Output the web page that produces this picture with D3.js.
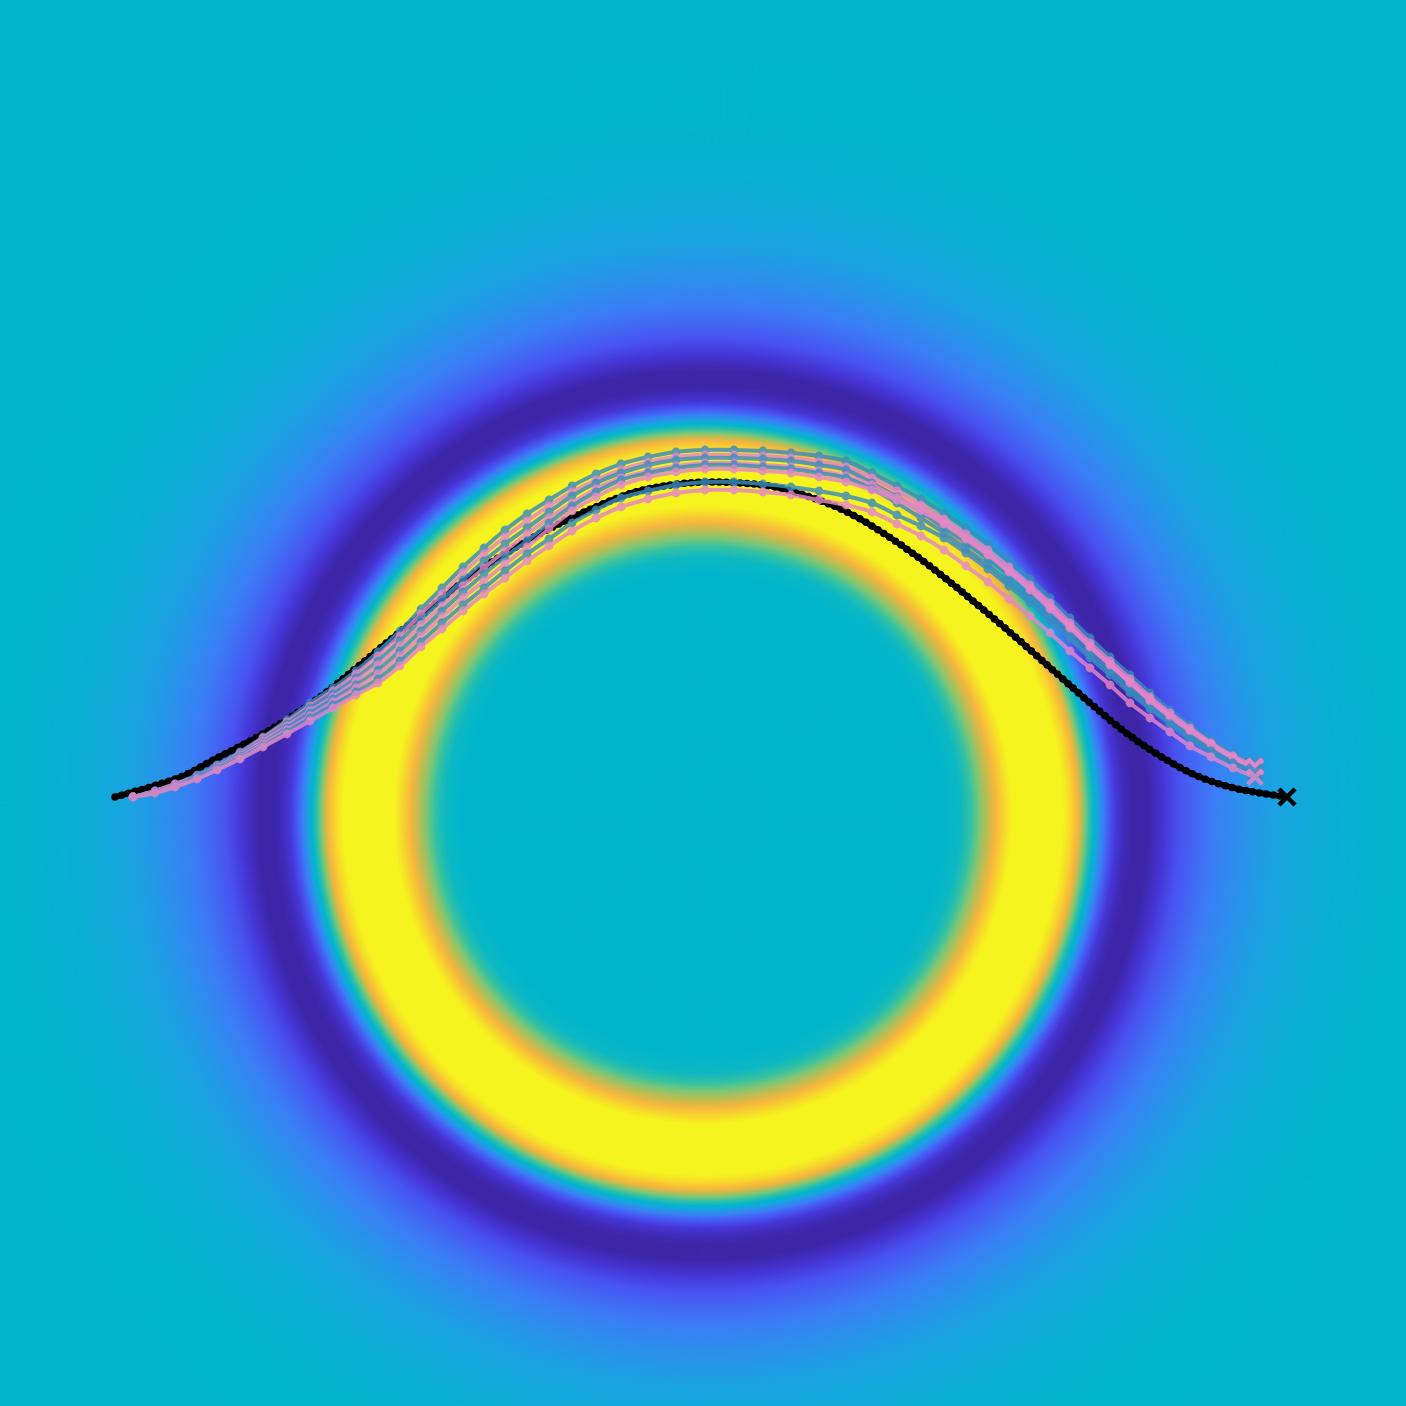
<!DOCTYPE html>
<html>
<head>
<meta charset="utf-8">
<style>
  html, body { margin: 0; padding: 0; background: #02b5cc; }
  svg { display: block; }
</style>
</head>
<body>
<div id="chart"></div>
<script src="https://cdn.jsdelivr.net/npm/d3@7"></script>
<script>
// colour map (parula-like), position -> colour
const cmapPos = [0, 0.08, 0.16, 0.25, 0.35, 0.45, 0.55, 0.63, 0.72, 0.8, 0.9, 1];
const cmapColors = ['#3e26a8', '#4636d6', '#4858f2', '#3a80f5', '#1ca2e2', '#02b5cc',
                    '#35c2a2', '#7cc677', '#c6bc4f', '#f8b63e', '#f6d92c', '#f6f41f'];

// radial profile of the field
const fieldCenter = [703, 815];
const ringRadius = [0, 240, 258, 270, 282, 292, 302, 310, 360, 368, 376, 383, 390, 398, 406, 414, 422, 430,
                    445, 456, 466, 478, 495, 515, 545, 585, 635, 700];
const ringLevel = [0.45, 0.45, 0.47, 0.56, 0.68, 0.78, 0.9, 1, 1, 0.9, 0.78, 0.62, 0.48, 0.3, 0.17, 0.08, 0.03, 0,
                   0, 0.05, 0.1, 0.15, 0.2, 0.25, 0.31, 0.37, 0.42, 0.45];

// reference path (black)
const refX = [115, 150, 183, 215, 250, 285, 320, 355, 390, 425, 460, 495, 530, 565, 600, 635, 670, 705,
              740, 775, 810, 845, 880, 915, 950, 985, 1020, 1055, 1090, 1125, 1160, 1195, 1230, 1260, 1287];
const refY = [797, 787, 776, 759, 741, 721, 697, 669, 640, 612, 584, 560, 539, 521, 505, 492, 485, 482,
              483, 487, 497, 511, 531, 555, 582, 611, 641, 672, 703, 732, 756, 775, 787, 793, 797];

// sampled trajectories, shared step positions
const stepX = [133, 155, 175, 197, 217, 240, 263, 287, 310, 333, 356, 378, 400, 421, 442, 463, 484, 505, 527, 549,
               572, 596, 621, 648, 676, 705, 734, 763, 791, 819, 846, 872, 897, 921, 944, 966, 988, 1009, 1030, 1050,
               1070, 1090, 1110, 1130, 1150, 1170, 1190, 1211, 1233, 1255];
const runTealA = [797, 791, 784, 775, 765, 752, 737, 720, 703, 688, 671, 652, 631, 609, 588, 567, 548, 530, 514, 500,
                  486, 474, 464, 457, 452, 450, 450, 451, 453, 456, 461, 473, 486, 499, 513, 528, 544, 561, 579, 598,
                  618, 638, 657, 675, 693, 710, 725, 740, 754, 764];
const runPinkA = [797, 791, 784, 776, 766, 753, 738, 722, 706, 691, 674, 656, 636, 614, 594, 573, 554, 537, 521, 506,
                  492, 480, 470, 462, 457, 455, 455, 456, 458, 462, 467, 478, 491, 505, 519, 534, 550, 567, 585, 603,
                  623, 643, 661, 679, 697, 713, 728, 743, 756, 766];
const runTealB = [797, 792, 785, 776, 766, 754, 740, 724, 708, 694, 678, 661, 641, 620, 600, 580, 561, 544, 528, 512,
                  496, 483, 473, 465, 460, 458, 458, 459, 461, 465, 470, 483, 497, 512, 528, 543, 559, 576, 594, 612,
                  631, 650, 668, 686, 703, 719, 733, 747, 760, 769];
const runPinkB = [797, 792, 785, 777, 767, 755, 741, 726, 711, 697, 681, 665, 646, 625, 606, 586, 568, 551, 534, 518,
                  503, 489, 478, 471, 466, 463, 463, 465, 467, 471, 476, 485, 498, 509, 522, 538, 554, 571, 588, 607,
                  626, 646, 664, 682, 699, 716, 730, 744, 758, 767];
const runTealC = [797, 792, 786, 777, 768, 756, 743, 728, 713, 699, 685, 670, 651, 631, 611, 592, 574, 557, 541, 523,
                  506, 492, 480, 473, 468, 465, 465, 467, 469, 473, 478, 489, 503, 518, 533, 549, 565, 582, 599, 617,
                  636, 655, 672, 690, 707, 722, 737, 749, 762, 771];
const runPinkC = [797, 792, 786, 778, 769, 757, 744, 730, 716, 702, 688, 674, 656, 636, 617, 598, 581, 564, 547, 529,
                  511, 497, 485, 477, 472, 469, 469, 471, 473, 477, 482, 490, 500, 511, 524, 539, 555, 572, 590, 609,
                  628, 647, 665, 683, 701, 717, 731, 745, 758, 768];
const runTealD = [797, 793, 787, 778, 769, 758, 746, 732, 718, 705, 692, 679, 661, 642, 623, 605, 588, 571, 554, 539,
                  523, 510, 498, 491, 485, 482, 482, 484, 487, 491, 496, 503, 515, 526, 538, 553, 569, 586, 603, 621,
                  639, 658, 675, 693, 709, 724, 739, 751, 763, 772];
const runPinkD = [797, 793, 787, 779, 770, 759, 747, 734, 721, 708, 695, 683, 666, 647, 629, 611, 594, 578, 561, 546,
                  531, 518, 507, 499, 493, 490, 490, 492, 495, 500, 505, 512, 524, 536, 550, 566, 582, 599, 616, 633,
                  651, 668, 685, 703, 718, 732, 746, 757, 768, 777];

const runs = [runTealA, runPinkA, runTealB, runPinkB, runTealC, runPinkC, runTealD, runPinkD];
const runKind = ['teal', 'pink', 'teal', 'pink', 'teal', 'pink', 'teal', 'pink'];

const W = 1406, H = 1406;

const x = d3.scaleLinear().domain([0, 1406]).range([0, W]);
const y = d3.scaleLinear().domain([0, 1406]).range([0, H]);

const color = d3.scaleLinear().domain(cmapPos).range(cmapColors)
    .interpolate(d3.interpolateRgb).clamp(true);
const level = d3.scaleLinear().domain(ringRadius).range(ringLevel).clamp(true);
const runColor = d3.scaleOrdinal().domain(['teal', 'pink']).range(['#3a8cc0', '#e686c8']);

const svg = d3.select('#chart')
    .append('svg')
    .attr('width', W)
    .attr('height', H);

// field
svg.append('rect')
    .attr('width', W)
    .attr('height', H)
    .attr('fill', color(level(ringRadius[ringRadius.length - 1])));

svg.append('g')
    .attr('id', 'field')
    .selectAll('circle')
    .data(d3.range(760, 0, -1))
    .enter()
    .append('circle')
    .attr('cx', x(fieldCenter[0]))
    .attr('cy', y(fieldCenter[1]))
    .attr('r', d => x(d) - x(0))
    .attr('fill', d => color(level(d)));

const line = d3.line()
    .x(d => x(d[0]))
    .y(d => y(d[1]))
    .curve(d3.curveCatmullRom);

// reference path
const refPts = refX.map((v, i) => [v, refY[i]]);
const refG = svg.append('g').attr('id', 'reference');

refG.append('path')
    .datum(refPts)
    .attr('d', line)
    .attr('fill', 'none')
    .attr('stroke', '#000')
    .attr('stroke-width', 5.5)
    .attr('stroke-linecap', 'round');

refG.append('path')
    .datum(refPts)
    .attr('d', line)
    .attr('fill', 'none')
    .attr('stroke', '#000')
    .attr('stroke-width', 7.5)
    .attr('stroke-linecap', 'round')
    .attr('stroke-dasharray', '0 7');

const refEnd = refPts[refPts.length - 1];
refG.append('path')
    .attr('d', d3.symbol(d3.symbolTimes, 170)())
    .attr('transform', `translate(${x(refEnd[0])},${y(refEnd[1])})`)
    .attr('fill', 'none')
    .attr('stroke', '#000')
    .attr('stroke-width', 4.5);

// trajectories
runs.forEach((run, k) => {
    const pts = stepX.map((v, i) => [v, run[i]]);
    const c = runColor(runKind[k]);
    const g = svg.append('g')
        .attr('class', 'run')
        .attr('opacity', 0.82);

    g.append('path')
        .datum(pts)
        .attr('d', line)
        .attr('fill', 'none')
        .attr('stroke', c)
        .attr('stroke-width', 4);

    g.selectAll('circle')
        .data(pts.slice(0, -1))
        .enter()
        .append('circle')
        .attr('cx', d => x(d[0]))
        .attr('cy', d => y(d[1]))
        .attr('r', 4.4)
        .attr('fill', c);

    const last = pts[pts.length - 1];
    g.append('path')
        .attr('d', d3.symbol(d3.symbolTimes, 140)())
        .attr('transform', `translate(${x(last[0])},${y(last[1])})`)
        .attr('fill', 'none')
        .attr('stroke', c)
        .attr('stroke-width', 4.5);
});
</script>
</body>
</html>
